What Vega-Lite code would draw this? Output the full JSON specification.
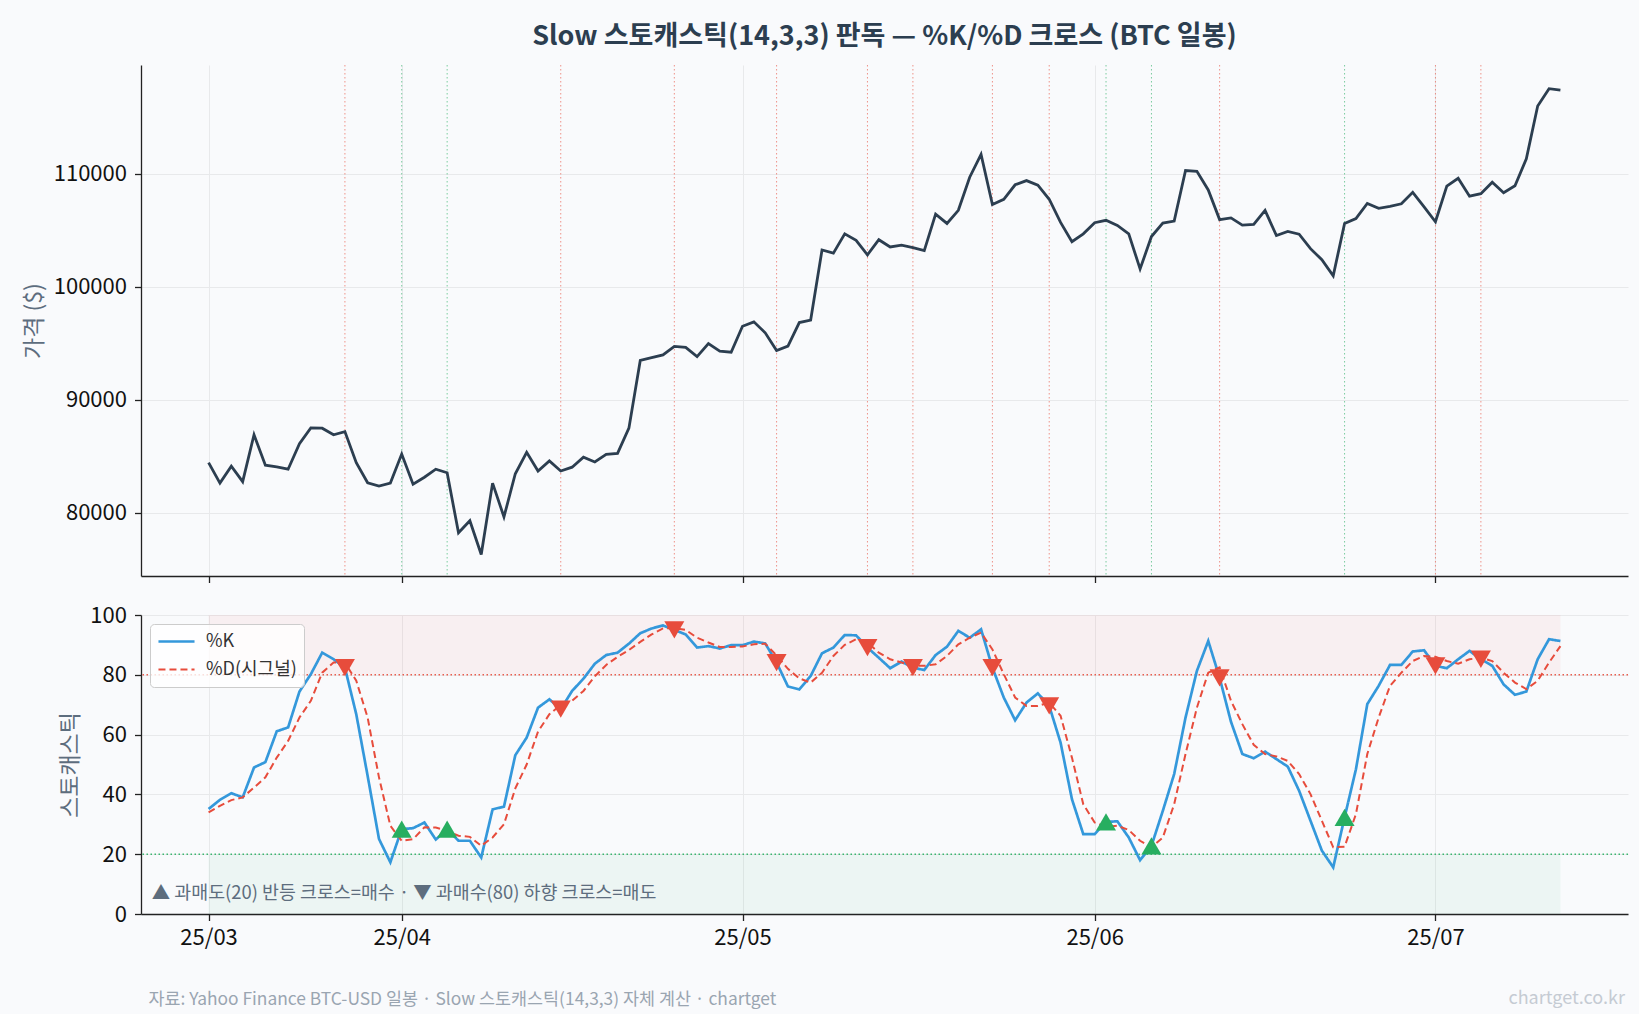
{
  "$schema": "https://vega.github.io/schema/vega-lite/v6.json",
  "background": "#f9fafc",
  "padding": {"left": 23, "top": 22, "right": 10, "bottom": 5},
  "spacing": 20,
  "resolve": {"scale": {"color": "independent", "strokeDash": "independent", "strokeWidth": "independent"}, "legend": {"color": "independent", "strokeDash": "independent"}},
  "datasets": {
    "main": [
      {"date":"2025-03-15","price":84430,"k":35.1,"d":34.0},
      {"date":"2025-03-16","price":82620,"k":38.2,"d":36.2},
      {"date":"2025-03-17","price":84120,"k":40.4,"d":38.1},
      {"date":"2025-03-18","price":82750,"k":39.0,"d":39.0},
      {"date":"2025-03-19","price":86900,"k":49.0,"d":42.3},
      {"date":"2025-03-20","price":84210,"k":50.8,"d":45.7},
      {"date":"2025-03-21","price":84060,"k":61.1,"d":52.3},
      {"date":"2025-03-22","price":83850,"k":62.4,"d":57.9},
      {"date":"2025-03-23","price":86110,"k":74.4,"d":65.7},
      {"date":"2025-03-24","price":87510,"k":80.2,"d":71.3},
      {"date":"2025-03-25","price":87480,"k":87.4,"d":80.7},
      {"date":"2025-03-26","price":86900,"k":85.2,"d":84.1},
      {"date":"2025-03-27","price":87180,"k":82.4,"d":84.1,"signal":"sell"},
      {"date":"2025-03-28","price":84430,"k":66.8,"d":78.0},
      {"date":"2025-03-29","price":82650,"k":46.2,"d":65.7},
      {"date":"2025-03-30","price":82350,"k":25.1,"d":45.7},
      {"date":"2025-03-31","price":82620,"k":17.3,"d":29.5},
      {"date":"2025-04-01","price":85190,"k":28.4,"d":24.5,"signal":"buy"},
      {"date":"2025-04-02","price":82530,"k":28.7,"d":25.0},
      {"date":"2025-04-03","price":83140,"k":30.6,"d":29.0},
      {"date":"2025-04-04","price":83850,"k":24.9,"d":28.9},
      {"date":"2025-04-05","price":83540,"k":28.4,"d":27.8,"signal":"buy"},
      {"date":"2025-04-06","price":78220,"k":24.5,"d":26.2},
      {"date":"2025-04-07","price":79290,"k":24.5,"d":25.8},
      {"date":"2025-04-08","price":76300,"k":18.9,"d":22.8},
      {"date":"2025-04-09","price":82620,"k":35.0,"d":25.6},
      {"date":"2025-04-10","price":79630,"k":35.9,"d":30.0},
      {"date":"2025-04-11","price":83450,"k":53.1,"d":42.0},
      {"date":"2025-04-12","price":85340,"k":59.0,"d":50.0},
      {"date":"2025-04-13","price":83690,"k":69.0,"d":61.0},
      {"date":"2025-04-14","price":84580,"k":71.8,"d":66.8},
      {"date":"2025-04-15","price":83690,"k":68.5,"d":70.0,"signal":"sell"},
      {"date":"2025-04-16","price":84030,"k":74.6,"d":71.3},
      {"date":"2025-04-17","price":84920,"k":78.7,"d":74.6},
      {"date":"2025-04-18","price":84490,"k":83.7,"d":79.5},
      {"date":"2025-04-19","price":85160,"k":86.6,"d":83.3},
      {"date":"2025-04-20","price":85250,"k":87.4,"d":86.0},
      {"date":"2025-04-21","price":87480,"k":90.4,"d":88.3},
      {"date":"2025-04-22","price":93470,"k":93.9,"d":91.0},
      {"date":"2025-04-23","price":93720,"k":95.5,"d":93.5},
      {"date":"2025-04-24","price":93960,"k":96.5,"d":95.5},
      {"date":"2025-04-25","price":94720,"k":95.0,"d":95.6,"signal":"sell"},
      {"date":"2025-04-26","price":94630,"k":93.5,"d":95.0},
      {"date":"2025-04-27","price":93810,"k":89.1,"d":92.4},
      {"date":"2025-04-28","price":94970,"k":89.6,"d":90.8},
      {"date":"2025-04-29","price":94300,"k":88.8,"d":89.3},
      {"date":"2025-04-30","price":94200,"k":89.9,"d":89.3},
      {"date":"2025-05-01","price":96500,"k":89.9,"d":89.5},
      {"date":"2025-05-02","price":96890,"k":91.1,"d":90.2},
      {"date":"2025-05-03","price":95920,"k":90.5,"d":90.4},
      {"date":"2025-05-04","price":94360,"k":84.1,"d":86.5,"signal":"sell"},
      {"date":"2025-05-05","price":94750,"k":76.1,"d":82.0},
      {"date":"2025-05-06","price":96830,"k":75.1,"d":78.8},
      {"date":"2025-05-07","price":97050,"k":79.6,"d":77.4},
      {"date":"2025-05-08","price":103250,"k":87.2,"d":80.7},
      {"date":"2025-05-09","price":102970,"k":89.1,"d":86.3},
      {"date":"2025-05-10","price":104680,"k":93.3,"d":90.0},
      {"date":"2025-05-11","price":104100,"k":93.2,"d":91.9},
      {"date":"2025-05-12","price":102820,"k":89.1,"d":90.8,"signal":"sell"},
      {"date":"2025-05-13","price":104160,"k":85.7,"d":87.4},
      {"date":"2025-05-14","price":103520,"k":82.2,"d":85.2},
      {"date":"2025-05-15","price":103680,"k":84.4,"d":84.1},
      {"date":"2025-05-16","price":103460,"k":82.4,"d":83.0,"signal":"sell"},
      {"date":"2025-05-17","price":103190,"k":81.6,"d":83.0},
      {"date":"2025-05-18","price":106430,"k":86.6,"d":83.5},
      {"date":"2025-05-19","price":105600,"k":89.4,"d":86.3},
      {"date":"2025-05-20","price":106760,"k":94.7,"d":90.2},
      {"date":"2025-05-21","price":109690,"k":92.4,"d":92.4},
      {"date":"2025-05-22","price":111710,"k":95.2,"d":94.1},
      {"date":"2025-05-23","price":107280,"k":82.4,"d":88.5,"signal":"sell"},
      {"date":"2025-05-24","price":107740,"k":72.4,"d":80.2},
      {"date":"2025-05-25","price":109020,"k":64.8,"d":72.4},
      {"date":"2025-05-26","price":109390,"k":70.7,"d":69.6},
      {"date":"2025-05-27","price":108990,"k":73.8,"d":69.6},
      {"date":"2025-05-28","price":107740,"k":69.6,"d":70.7,"signal":"sell"},
      {"date":"2025-05-29","price":105690,"k":57.3,"d":66.3},
      {"date":"2025-05-30","price":103980,"k":38.4,"d":52.3},
      {"date":"2025-05-31","price":104680,"k":26.7,"d":36.7},
      {"date":"2025-06-01","price":105660,"k":26.7,"d":30.6},
      {"date":"2025-06-02","price":105880,"k":30.8,"d":29.2,"signal":"buy"},
      {"date":"2025-06-03","price":105420,"k":31.0,"d":29.5},
      {"date":"2025-06-04","price":104680,"k":25.6,"d":28.1},
      {"date":"2025-06-05","price":101570,"k":18.0,"d":24.5},
      {"date":"2025-06-06","price":104440,"k":22.8,"d":22.3,"signal":"buy"},
      {"date":"2025-06-07","price":105630,"k":34.5,"d":25.6},
      {"date":"2025-06-08","price":105810,"k":46.8,"d":36.7},
      {"date":"2025-06-09","price":110280,"k":65.7,"d":53.5},
      {"date":"2025-06-10","price":110210,"k":81.3,"d":69.0},
      {"date":"2025-06-11","price":108560,"k":91.3,"d":80.7},
      {"date":"2025-06-12","price":105940,"k":79.0,"d":82.5,"signal":"sell"},
      {"date":"2025-06-13","price":106090,"k":64.3,"d":71.3},
      {"date":"2025-06-14","price":105450,"k":53.5,"d":63.5},
      {"date":"2025-06-15","price":105510,"k":52.1,"d":56.6},
      {"date":"2025-06-16","price":106760,"k":54.3,"d":53.5},
      {"date":"2025-06-17","price":104530,"k":51.8,"d":52.7},
      {"date":"2025-06-18","price":104900,"k":49.3,"d":51.2},
      {"date":"2025-06-19","price":104650,"k":41.2,"d":46.8},
      {"date":"2025-06-20","price":103370,"k":31.2,"d":40.1},
      {"date":"2025-06-21","price":102390,"k":21.2,"d":31.2},
      {"date":"2025-06-22","price":100960,"k":15.6,"d":22.3},
      {"date":"2025-06-23","price":105600,"k":32.3,"d":22.5,"signal":"buy"},
      {"date":"2025-06-24","price":106030,"k":48.4,"d":33.4},
      {"date":"2025-06-25","price":107370,"k":70.2,"d":53.5},
      {"date":"2025-06-26","price":106940,"k":76.3,"d":65.7},
      {"date":"2025-06-27","price":107100,"k":83.3,"d":76.3},
      {"date":"2025-06-28","price":107340,"k":83.3,"d":80.7},
      {"date":"2025-06-29","price":108350,"k":87.8,"d":84.6},
      {"date":"2025-06-30","price":107070,"k":88.2,"d":86.3},
      {"date":"2025-07-01","price":105750,"k":83.0,"d":86.0,"signal":"sell"},
      {"date":"2025-07-02","price":108900,"k":82.2,"d":84.6},
      {"date":"2025-07-03","price":109600,"k":85.2,"d":83.7},
      {"date":"2025-07-04","price":108010,"k":88.0,"d":85.2},
      {"date":"2025-07-05","price":108230,"k":85.2,"d":85.7,"signal":"sell"},
      {"date":"2025-07-06","price":109240,"k":83.0,"d":84.6},
      {"date":"2025-07-07","price":108320,"k":76.8,"d":80.7},
      {"date":"2025-07-08","price":108930,"k":73.3,"d":77.4},
      {"date":"2025-07-09","price":111310,"k":74.4,"d":75.2},
      {"date":"2025-07-10","price":115990,"k":85.2,"d":78.0},
      {"date":"2025-07-11","price":117520,"k":91.9,"d":84.1},
      {"date":"2025-07-12","price":117390,"k":91.3,"d":89.6}
    ],
    "zones": [
      {"date":"2025-03-15","date_end":"2025-07-12","lo":80,"hi":100,"zone":"overbought"},
      {"date":"2025-03-15","date_end":"2025-07-12","lo":0,"hi":20,"zone":"oversold"}
    ],
    "note": [
      {"date":"2025-03-10","stoch":7,"label":"▲ 과매도(20) 반등 크로스=매수 · ▼ 과매수(80) 하향 크로스=매도"}
    ]
  },
  "vconcat": [
    {
      "width": 1487,
      "height": 511,
      "title": {"text": "Slow 스토캐스틱(14,3,3) 판독 — %K/%D 크로스 (BTC 일봉)", "anchor": "middle", "frame": "group", "fontSize": 27, "fontWeight": "bold", "color": "#2c3e50", "offset": 14},
      "data": {"name": "main"},
      "encoding": {
        "x": {"field": "date", "type": "temporal",
          "scale": {"type": "utc", "domain": [{"year":2025,"month":3,"date":9,"hours":1,"minutes":12,"utc":true},{"year":2025,"month":7,"date":17,"hours":22,"minutes":48,"utc":true}]},
          "axis": {"values": [{"year":2025,"month":3,"date":15,"utc":true},{"year":2025,"month":4,"date":1,"utc":true},{"year":2025,"month":5,"date":1,"utc":true},{"year":2025,"month":6,"date":1,"utc":true},{"year":2025,"month":7,"date":1,"utc":true}], "labels": false, "title": null, "grid": true}}
      },
      "layer": [
        {"transform": [{"filter": "datum.signal == 'sell'"}],
         "mark": {"type": "rule", "color": "#e74c3c", "strokeDash": [1.5, 2.5], "strokeWidth": 1, "opacity": 0.6}},
        {"transform": [{"filter": "datum.signal == 'buy'"}],
         "mark": {"type": "rule", "color": "#27ae60", "strokeDash": [1.5, 2.5], "strokeWidth": 1, "opacity": 0.6}},
        {"mark": {"type": "line", "color": "#2c3e50", "strokeWidth": 2.8},
         "encoding": {"y": {"field": "price", "type": "quantitative", "scale": {"domain": [74400, 119620], "nice": false, "zero": false}, "axis": {"title": "가격 ($)", "values": [80000, 90000, 100000, 110000], "format": "d", "grid": true}}}}
      ]
    },
    {
      "width": 1487,
      "height": 299,
      "title": {"text": "chartget.co.kr", "orient": "bottom", "anchor": "end", "frame": "group", "fontSize": 18, "fontWeight": "normal", "color": "#c5cbd3", "dy": -21, "dx": -3},
      "data": {"name": "main"},
      "encoding": {
        "x": {"field": "date", "type": "temporal",
          "scale": {"type": "utc", "domain": [{"year":2025,"month":3,"date":9,"hours":1,"minutes":12,"utc":true},{"year":2025,"month":7,"date":17,"hours":22,"minutes":48,"utc":true}]},
          "axis": {"values": [{"year":2025,"month":3,"date":15,"utc":true},{"year":2025,"month":4,"date":1,"utc":true},{"year":2025,"month":5,"date":1,"utc":true},{"year":2025,"month":6,"date":1,"utc":true},{"year":2025,"month":7,"date":1,"utc":true}], "format": "%y/%m", "grid": true,
            "title": "자료: Yahoo Finance BTC-USD 일봉 · Slow 스토캐스틱(14,3,3) 자체 계산 · chartget", "titleX": 7, "titleY": 85, "titleAlign": "left", "titleBaseline": "middle", "titleFontSize": 17.4, "titleColor": "#9aa5b1", "titleFontWeight": "normal"}}
      },
      "layer": [
        {"data": {"name": "zones"}, "transform": [{"filter": "datum.zone == 'overbought'"}],
         "mark": {"type": "rect", "color": "#e74c3c", "opacity": 0.06},
         "encoding": {
           "x2": {"field": "date_end"},
           "y": {"field": "lo", "type": "quantitative", "scale": {"domain": [0, 100], "nice": false}, "axis": {"title": "스토캐스틱", "values": [0, 20, 40, 60, 80, 100], "grid": true}},
           "y2": {"field": "hi"}
         }},
        {"data": {"name": "zones"}, "transform": [{"filter": "datum.zone == 'oversold'"}],
         "mark": {"type": "rect", "color": "#27ae60", "opacity": 0.06},
         "encoding": {
           "x2": {"field": "date_end"},
           "y": {"field": "lo", "type": "quantitative"},
           "y2": {"field": "hi"}
         }},
        {"data": {"name": "zones"}, "transform": [{"filter": "datum.zone == 'overbought'"}],
         "mark": {"type": "rule", "color": "#e74c3c", "strokeDash": [1.5, 2.5], "strokeWidth": 1.4, "opacity": 0.9},
         "encoding": {"x": null, "y": {"field": "lo", "type": "quantitative"}}},
        {"data": {"name": "zones"}, "transform": [{"filter": "datum.zone == 'oversold'"}],
         "mark": {"type": "rule", "color": "#27ae60", "strokeDash": [1.5, 2.5], "strokeWidth": 1.4, "opacity": 0.9},
         "encoding": {"x": null, "y": {"field": "hi", "type": "quantitative"}}},
        {"transform": [{"fold": ["k", "d"], "as": ["series", "value"]}],
         "mark": {"type": "line"},
         "encoding": {
           "y": {"field": "value", "type": "quantitative"},
           "color": {"field": "series", "type": "nominal", "scale": {"domain": ["k", "d"], "range": ["#3498db", "#e74c3c"]},
             "legend": {"title": null, "labelExpr": "datum.label == 'k' ? '%K' : '%D(시그널)'"}},
           "strokeDash": {"field": "series", "type": "nominal", "scale": {"domain": ["k", "d"], "range": [[1, 0], [7, 4]]},
             "legend": {"title": null, "labelExpr": "datum.label == 'k' ? '%K' : '%D(시그널)'"}},
           "strokeWidth": {"field": "series", "type": "nominal", "scale": {"domain": ["k", "d"], "range": [2.7, 2.0]}, "legend": null}
         }},
        {"transform": [{"filter": "datum.signal == 'sell'"}],
         "mark": {"type": "point", "shape": "triangle-down", "filled": true, "color": "#e74c3c", "size": 400, "opacity": 1},
         "encoding": {"y": {"field": "k", "type": "quantitative"}}},
        {"transform": [{"filter": "datum.signal == 'buy'"}],
         "mark": {"type": "point", "shape": "triangle-up", "filled": true, "color": "#27ae60", "size": 400, "opacity": 1},
         "encoding": {"y": {"field": "k", "type": "quantitative"}}},
        {"data": {"name": "note"},
         "mark": {"type": "text", "align": "left", "baseline": "middle", "fontSize": 18.4, "color": "#5d6d7e"},
         "encoding": {"y": {"field": "stoch", "type": "quantitative"}, "text": {"field": "label"}}}
      ]
    }
  ],
  "config": {
    "font": "Noto Sans CJK KR",
    "view": {"stroke": null},
    "axis": {"domainColor": "#222222", "domainWidth": 1.3, "tickColor": "#222222", "tickWidth": 1.3, "tickSize": 6.5,
      "labelFont": "Noto Sans CJK KR", "labelFontSize": 22, "labelColor": "#111111",
      "gridColor": "#e8e9eb", "gridWidth": 1,
      "titleFont": "Noto Sans CJK KR", "titleFontSize": 23, "titleFontWeight": "normal", "titleColor": "#5d6d7e", "titlePadding": 7},
    "axisX": {"labelPadding": 7},
    "axisY": {"labelPadding": 8},
    "legend": {"orient": "top-left", "offset": 9, "padding": 7, "fillColor": "rgba(255,255,255,0.8)", "strokeColor": "#cccccc", "cornerRadius": 4,
      "labelFont": "Noto Sans CJK KR", "labelFontSize": 18, "labelColor": "#333333", "symbolType": "stroke", "symbolSize": 1300, "symbolStrokeWidth": 2.4,
      "clipHeight": 21, "rowPadding": 7, "labelOffset": 10},
    "title": {"font": "Noto Sans CJK KR"}
  }
}
